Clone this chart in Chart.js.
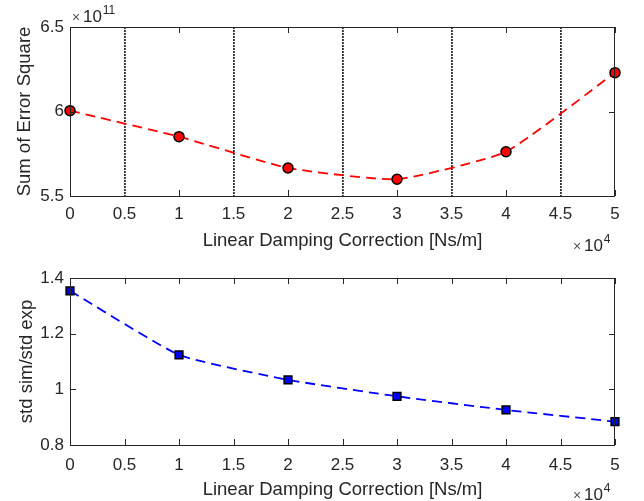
<!DOCTYPE html>
<html>
<head>
<meta charset="utf-8">
<script src="https://cdn.jsdelivr.net/npm/chart.js@4/dist/chart.umd.min.js"></script>
<style>
  body { margin: 0; background: #fff; }
  canvas { display: block; }
</style>
</head>
<body>
<canvas id="sseChart" width="644" height="255"></canvas>
<canvas id="stdChart" width="644" height="246"></canvas>
<script>
// damping correction sweep [Ns/m]
const damping = [0, 10000, 20000, 30000, 40000, 50000];
// sum of error square, in units of 1e11
const sse = [6.005, 5.851, 5.666, 5.599, 5.762, 6.230];
// std sim / std exp
const stdRatio = [1.354, 1.124, 1.034, 0.975, 0.926, 0.884];

const xTicks = [0, 5000, 10000, 15000, 20000, 25000, 30000, 35000, 40000, 45000, 50000];
const sseTicks = [5.5, 6, 6.5];
const stdTicks = [0.8, 1, 1.2, 1.4];

const FONT = "'Liberation Sans', Arial, Helvetica, sans-serif";
const INK = '#262626';

Chart.defaults.font.family = FONT;
Chart.defaults.color = INK;

function pts(ys) {
  return damping.map((x, i) => ({ x: x, y: ys[i] }));
}

// matlab-ish box with inward ticks and the x10^n multipliers
function boxPlugin(opts) {
  return {
    id: 'box' + opts.id,
    afterDraw(chart) {
      const c = chart.ctx;
      const a = chart.chartArea;
      const sx = chart.scales.x, sy = chart.scales.y;
      c.save();
      c.strokeStyle = INK;
      c.lineWidth = 1;
      c.strokeRect(a.left + 0.5, a.top + 0.5, a.right - a.left - 1, a.bottom - a.top);
      const len = 6;
      c.beginPath();
      opts.xMarks.forEach(v => {
        const px = Math.round(sx.getPixelForValue(v)) + 0.5;
        c.moveTo(px, a.bottom); c.lineTo(px, a.bottom - len);
        c.moveTo(px, a.top); c.lineTo(px, a.top + len);
      });
      opts.yMarks.forEach(v => {
        const py = Math.round(sy.getPixelForValue(v)) + 0.5;
        c.moveTo(a.left, py); c.lineTo(a.left + len, py);
        c.moveTo(a.right, py); c.lineTo(a.right - len, py);
      });
      c.stroke();

      // exponent labels
      c.textBaseline = 'alphabetic';
      function mult(x, y, exp) {
        c.font = '14px ' + FONT;
        c.fillStyle = '#555';
        c.fillText('\u00d7', x, y);
        c.fillStyle = INK;
        c.font = '17px ' + FONT;
        const w1 = c.measureText('\u00d7').width;
        c.fillText('10', x + w1 + 1, y);
        const w2 = c.measureText('10').width;
        c.font = '12px ' + FONT;
        c.fillText(exp, x + w1 + 1 + w2 + 1, y - 8);
      }
      mult(a.right - 42, a.bottom + 55, '4');
      if (opts.yExp) mult(a.left + 2, a.top - 5, opts.yExp);
      c.restore();
    }
  };
}

function makeChart(id, values, yTicks, ds, titleY, plugin, dims) {
  return new Chart(document.getElementById(id), {
    type: 'line',
    data: {
      datasets: [Object.assign({
        data: pts(values),
        borderWidth: 1.8,
        borderDash: [10, 6],
        tension: 0.15,
        clip: false,
        pointRadius: 5,
        pointBorderWidth: 1.5,
        pointBorderColor: '#000'
      }, ds)]
    },
    options: {
      responsive: false,
      animation: false,
      events: [],
      layout: { padding: { top: dims.top, right: 29, left: 0, bottom: 0 } },
      plugins: { legend: { display: false }, tooltip: { enabled: false } },
      scales: {
        x: {
          type: 'linear',
          min: 0, max: 50000,
          afterBuildTicks: s => { s.ticks = xTicks.map(v => ({ value: v })); },
          afterFit: s => { s.height = dims.xh; },
          ticks: {
            autoSkip: false, maxRotation: 0, padding: dims.tickPad,
            font: { size: 17 },
            callback: v => String(v / 10000)
          },
          grid: {
            drawTicks: false,
            lineWidth: 1.8,
            color: c => (dims.halfGrid && c.tick && c.tick.value % 10000 !== 0) ? '#2e2e2e' : 'rgba(0,0,0,0)'
          },
          border: { display: false, dash: [2, 1] },
          title: {
            display: true, text: 'Linear Damping Correction [Ns/m]',
            font: { size: 18.5 }, padding: { top: 0, bottom: dims.titlePad }
          }
        },
        y: {
          type: 'linear',
          min: yTicks[0], max: yTicks[yTicks.length - 1],
          afterBuildTicks: s => { s.ticks = yTicks.map(v => ({ value: v })); },
          afterFit: s => { s.width = 70; },
          ticks: {
            padding: 6, font: { size: 17 },
            callback: v => String(v)
          },
          grid: { display: false, drawTicks: false },
          border: { display: false },
          title: {
            display: true, text: titleY,
            font: { size: 18.5 }, padding: { top: dims.yTitlePad, bottom: 0 }
          }
        }
      }
    },
    plugins: [plugin]
  });
}

makeChart('sseChart', sse, sseTicks, {
  borderColor: '#ff0000',
  pointBackgroundColor: '#ff0000',
  pointStyle: 'circle'
}, 'Sum of Error Square', boxPlugin({
  id: 'sse',
  xMarks: damping,
  yMarks: [6],
  yExp: '11'
}), { top: 27, xh: 59, tickPad: 8.5, titlePad: 3, yTitlePad: 14, halfGrid: true });

makeChart('stdChart', stdRatio, stdTicks, {
  borderColor: '#0000ff',
  pointBackgroundColor: '#0000ff',
  pointStyle: 'rect',
  pointRadius: 5.5
}, 'std sim/std exp', boxPlugin({
  id: 'std',
  xMarks: xTicks,
  yMarks: stdTicks,
  yExp: null
}), { top: 23, xh: 56, tickPad: 10.5, titlePad: 0, yTitlePad: 16, halfGrid: false });
</script>
</body>
</html>
